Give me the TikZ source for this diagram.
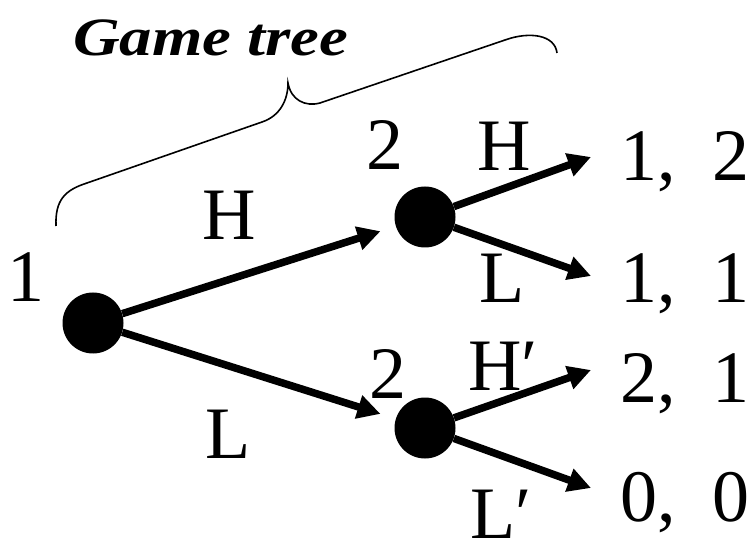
\documentclass[tikz,border=0pt]{standalone}
\usepackage{fontspec}
\usepackage{graphicx}
\setmainfont{Liberation Serif}
\usetikzlibrary{arrows.meta}
\begin{document}
\begin{tikzpicture}[x=1pt,y=-1pt,
  lab/.style={inner sep=0pt,anchor=base,font=\fontsize{74}{80}\selectfont},
  pay/.style={inner sep=0pt,anchor=base west,font=\fontsize{74}{80}\selectfont},
  dot/.style={circle,fill=black,minimum size=61pt,inner sep=0pt},
  arr/.style={line width=7.5pt,-{Triangle[length=23pt,width=23pt]}},
  bracepath/.style={line width=1.6pt}]
\useasboundingbox (0,0) rectangle (753,540);
% nodes
\node[dot] (r) at (93,323) {};
\node[dot] (a) at (425,217) {};
\node[dot] (b) at (425,428) {};
\coordinate (ta1) at (591,157);
\coordinate (ta2) at (591,276);
\coordinate (tb1) at (591,370);
\coordinate (tb2) at (591,488);
% arrows
\draw[arr,shorten >=16pt] (r) -- (a);
\draw[arr,shorten >=16pt] (r) -- (b);
\draw[arr] (a) -- (ta1);
\draw[arr] (a) -- (ta2);
\draw[arr] (b) -- (tb1);
\draw[arr] (b) -- (tb2);
% labels
\node[lab] (l1) at (26,302) {1};
\node[lab] (lH) at (229,240) {H};
\node[lab] (lL) at (228,458) {L};
\node[lab] (l2a) at (385,170) {2};
\node[lab] (l2b) at (388,398) {2};
\node[lab] (aH) at (504,171) {H};
\node[lab] (aL) at (502,303) {L};
\node[pay] (bH) at (468,390) {H′};
\node[pay] (bL) at (470,538) {L′};
% payoffs
\node[pay] (p1) at (620,181) {1,\ \ 2};
\node[pay] (p2) at (620,303) {1,\ \ 1};
\node[pay] (p3) at (620,402) {2,\ \ 1};
\node[pay] (p4) at (620,521) {0,\ \ 0};
% title and brace
\node[inner sep=0pt,anchor=base west,font=\fontsize{54}{58}\selectfont\bfseries\itshape] (title) at (73,56) {\scalebox{1.2}[1]{Game tree}};
\draw[bracepath] (56,226) .. controls (55,200) and (65,190) .. (87,183)
  -- (262,122) .. controls (280,116) and (288,100) .. (288,83)
  .. controls (291,100) and (305,107) .. (320,103)
  -- (505,40) .. controls (530,31) and (555,35) .. (557,53);
\end{tikzpicture}
\end{document}
